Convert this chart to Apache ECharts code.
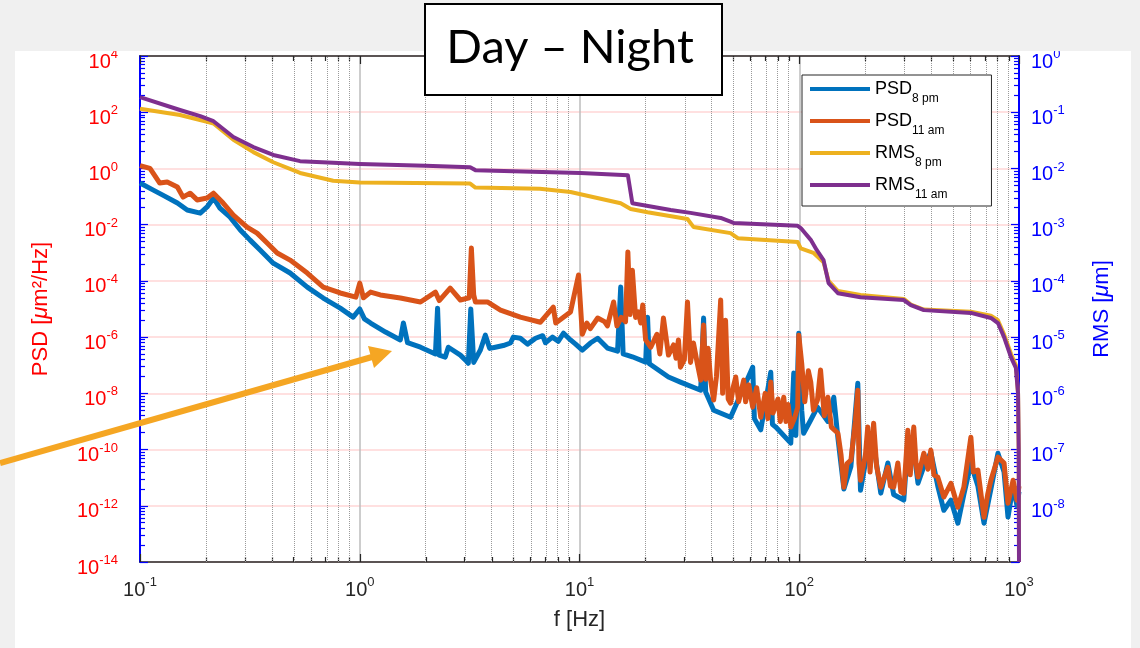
<!DOCTYPE html>
<html>
<head>
<meta charset="utf-8">
<script src="https://cdn.jsdelivr.net/npm/echarts@6/dist/echarts.min.js"></script>
<style>
html, body { margin: 0; padding: 0; background: #f0f0f0; }
#main { width: 1140px; height: 648px; }
</style>
</head>
<body>
<div id="main"></div>
<script>
// [frequency in Hz, level in decades (log10)]
var psd8pm = [
    [0.1, -0.52], [0.115, -0.77], [0.127, -0.95], [0.148, -1.23], [0.164, -1.48], [0.188, -1.59], [0.202, -1.37], [0.216, -1.05],
    [0.231, -1.41], [0.257, -1.73], [0.286, -2.19], [0.317, -2.55], [0.352, -2.9], [0.404, -3.37], [0.482, -3.72], [0.577, -4.22],
    [0.682, -4.61], [0.815, -4.97], [0.933, -5.29], [1.0, -5.0], [1.05, -5.35], [1.12, -5.5], [1.31, -5.82], [1.53, -6.1],
    [1.58, -5.5], [1.65, -6.2], [1.89, -6.36], [2.21, -6.6], [2.26, -4.97], [2.3, -6.64], [2.45, -6.71], [2.53, -6.36],
    [2.87, -6.64], [3.03, -6.82], [3.12, -6.93], [3.2, -5.0], [3.3, -6.9], [3.54, -6.46], [3.73, -5.93], [3.9, -6.4],
    [4.14, -6.36], [4.5, -6.3], [4.85, -6.21], [5.0, -6.0], [5.38, -6.04], [5.8, -6.25], [6.31, -6.04], [6.8, -5.95],
    [7.0, -6.2], [7.53, -6.0], [8.0, -6.15], [8.46, -5.86], [9.1, -6.1], [9.6, -6.25], [10.3, -6.46], [11.2, -6.21],
    [12.1, -6.04], [13.4, -6.39], [14.9, -6.5], [15.4, -4.22], [15.8, -6.6], [17.4, -6.7], [20.0, -6.89], [20.4, -5.29],
    [20.8, -6.95], [25.4, -7.42], [28.8, -7.6], [35.6, -7.89], [36.7, -5.32], [37.5, -7.95], [40.8, -8.6], [48.7, -8.85],
    [61.4, -7.07], [62.5, -8.9], [66.8, -9.3], [74.2, -7.25], [75.5, -9.1], [78.2, -9.2], [91.5, -9.77], [94.4, -7.28],
    [96.5, -9.5], [99.5, -5.86], [102.6, -8.6], [104.7, -9.42], [112.8, -8.95], [121, -8.49], [135, -9.0], [143.6, -8.14],
    [150, -9.6], [159.6, -11.4], [171.8, -10.6], [184.7, -7.64], [190, -11.45], [205, -10.0], [218, -9.8], [235, -11.55],
    [253, -10.48], [269, -11.6], [299, -11.8], [312, -9.8], [332, -10.0], [347, -11.2], [369, -10.6], [397, -10.1],
    [427, -11.3], [455, -12.16], [490, -11.8], [527, -12.62], [561, -11.6], [604, -10.5], [650, -11.3], [693, -12.62],
    [745, -11.4], [802, -10.13], [855, -10.8], [891, -12.4], [940, -11.3], [979, -12.0], [1000, -11.5]
];

var psd11am = [
    [0.1, 0.1], [0.111, 0.0], [0.123, -0.52], [0.133, -0.48], [0.148, -0.66], [0.157, -1.02], [0.169, -0.88], [0.182, -1.12],
    [0.202, -1.05], [0.216, -0.88], [0.239, -1.23], [0.266, -1.66], [0.307, -2.09], [0.341, -2.3], [0.379, -2.65], [0.421, -3.01],
    [0.482, -3.26], [0.577, -3.72], [0.682, -4.22], [0.815, -4.43], [0.96, -4.58], [1.0, -4.08], [1.04, -4.6], [1.12, -4.4],
    [1.24, -4.5], [1.53, -4.61], [1.89, -4.75], [2.21, -4.4], [2.3, -4.7], [2.58, -4.26], [2.87, -4.68], [3.15, -4.6],
    [3.22, -2.83], [3.3, -4.5], [3.36, -4.75], [3.81, -4.75], [4.37, -5.04], [5.38, -5.29], [6.64, -5.47], [7.6, -4.93],
    [7.8, -5.5], [9.1, -5.11], [9.9, -3.79], [10.3, -5.9], [10.8, -5.5], [11.2, -5.7], [12.1, -5.32], [13.0, -5.45],
    [13.4, -5.6], [14.3, -4.75], [14.8, -5.6], [15.5, -5.3], [16.2, -5.45], [16.6, -2.97], [17.0, -5.2], [17.4, -3.62],
    [18.0, -5.3], [18.5, -5.1], [19.0, -5.5], [19.4, -4.86], [20.0, -6.1], [21.1, -6.36], [22.5, -5.9], [23.2, -6.6],
    [24.1, -5.32], [25.4, -6.64], [26.8, -6.28], [27.5, -6.75], [28.2, -6.1], [28.8, -7.07], [30.0, -6.8], [31.0, -4.75],
    [32.0, -6.9], [33.0, -6.21], [34.3, -6.9], [35.6, -7.53], [36.7, -5.57], [37.5, -7.5], [38.5, -6.4], [39.5, -7.53],
    [40.8, -8.24], [42.0, -7.4], [43.9, -4.68], [44.8, -8.0], [46.2, -5.4], [47.5, -8.2], [48.7, -8.35], [50.0, -7.8],
    [51.4, -7.42], [53.0, -8.3], [55.9, -7.53], [57.0, -8.3], [59.0, -7.7], [61.4, -8.49], [64.0, -7.8], [66.8, -8.85],
    [70.0, -8.0], [72.0, -8.9], [74.2, -7.6], [76.0, -8.7], [80.0, -8.2], [82.0, -9.0], [85.0, -8.14], [87.0, -9.0],
    [89.0, -8.4], [91.5, -9.2], [95.0, -8.9], [98.4, -8.5], [99.5, -5.93], [102.6, -6.93], [106, -8.3], [110, -7.2],
    [112.8, -7.6], [116, -8.6], [121, -8.24], [125, -7.17], [130, -8.8], [135, -8.14], [140, -9.2], [150, -9.42],
    [155, -10.2], [159.6, -11.34], [165, -10.5], [171.8, -10.38], [180, -9.0], [184.7, -7.89], [187, -10.5], [190, -11.09],
    [200, -10.2], [205, -9.2], [210, -10.8], [218, -9.06], [225, -10.6], [235, -11.34], [253, -10.63], [260, -11.3],
    [269, -11.34], [281, -10.48], [290, -11.5], [299, -11.55], [312, -9.31], [320, -10.9], [332, -9.2], [340, -10.5],
    [347, -10.98], [369, -10.13], [385, -10.7], [397, -10.02], [410, -10.9], [427, -10.98], [455, -11.69], [490, -11.2],
    [527, -12.05], [561, -11.34], [604, -9.56], [620, -10.8], [650, -10.73], [693, -12.41], [720, -11.6], [745, -11.09],
    [802, -10.27], [855, -10.48], [891, -11.91], [940, -11.09], [979, -11.8], [1000, -11.3]
];

var rms8pm = [
    [0.1, -0.94], [0.152, -1.05], [0.202, -1.17], [0.216, -1.2], [0.266, -1.49], [0.328, -1.71], [0.404, -1.89], [0.535, -2.08],
    [0.757, -2.22], [1.0, -2.25], [3.18, -2.27], [3.36, -2.34], [6.6, -2.36], [9.1, -2.42], [15.4, -2.62], [17.1, -2.72],
    [20.4, -2.78], [31, -2.9], [33, -3.04], [48.7, -3.15], [52.5, -3.24], [98.4, -3.31], [101.6, -3.42], [116, -3.5],
    [129, -3.67], [136, -4.0], [150, -4.18], [190, -4.25], [299, -4.32], [322, -4.42], [369, -4.51], [604, -4.55],
    [745, -4.62], [802, -4.7], [855, -4.95], [920, -5.3], [968, -5.5], [990, -6.0], [997, -7.0], [1000, -9.0]
];

var rms11am = [
    [0.1, -0.73], [0.152, -0.96], [0.188, -1.07], [0.216, -1.16], [0.266, -1.44], [0.328, -1.62], [0.404, -1.76], [0.535, -1.87],
    [0.757, -1.9], [1.0, -1.92], [1.99, -1.95], [3.18, -1.98], [3.36, -2.03], [10.1, -2.08], [16.6, -2.12], [17.4, -2.62],
    [26, -2.74], [32, -2.79], [43.9, -2.88], [50.3, -2.97], [98.4, -3.02], [101.6, -3.06], [112.8, -3.27], [120, -3.45],
    [129, -3.63], [136, -4.04], [150, -4.22], [190, -4.29], [299, -4.34], [322, -4.43], [369, -4.52], [604, -4.57],
    [745, -4.66], [802, -4.75], [855, -5.0], [920, -5.36], [968, -5.55], [990, -6.0], [997, -7.0], [1000, -9.0]
];

var seriesNames = ['PSD_8 pm', 'PSD_11 am', 'RMS_8 pm', 'RMS_11 am'];
var seriesColors = ['#0072bd', '#d95319', '#edb120', '#7e2f8e'];

var FONT = 'Liberation Sans';

// minor tick positions (2..9 in each decade) in log10 units
var xMinor = [];
for (var n = -1; n < 3; n++) {
    for (var k = 2; k <= 9; k++) xMinor.push(n + Math.log10(k));
}
var rMinor = [];
for (var m = -9; m < 0; m++) {
    for (var j = 2; j <= 9; j++) rMinor.push(m + Math.log10(j));
}

function toLog(rows) {
    return rows.map(function (r) { return [Math.log10(r[0]), r[1]]; });
}
function powLabel(v) {
    return '{b|10}{s|' + v + '}';
}
function supRich(color) {
    return {
        b: { fontSize: 20, lineHeight: 28, color: color, fontFamily: FONT },
        s: { fontSize: 13, lineHeight: 12, verticalAlign: 'top', color: color, fontFamily: FONT }
    };
}
function tickAxis(pos, min, max, len, color, custom) {
    var ax = {
        type: 'value', min: min, max: max, position: pos,
        axisLine: { show: false, onZero: false },
        axisLabel: { show: false },
        splitLine: { show: false },
        axisTick: { show: true, inside: true, length: len, lineStyle: { color: color, width: 1.2 } }
    };
    if (custom) ax.axisTick.customValues = custom;
    else ax.interval = 1;
    return ax;
}
function lineSeries(i, data, yIdx, width) {
    return {
        name: seriesNames[i], type: 'line', xAxisIndex: 0, yAxisIndex: yIdx, z: 3 + i,
        data: toLog(data), showSymbol: false, symbol: 'none',
        itemStyle: { color: seriesColors[i] },
        lineStyle: { color: seriesColors[i], width: width, join: 'round' }
    };
}

var myChart = echarts.init(document.getElementById('main'));

var option = {
    backgroundColor: '#f0f0f0',
    animation: false,
    grid: { left: 140, right: 121, top: 56, bottom: 86, show: false },
    graphic: [
        { type: 'rect', z: -10, silent: true, shape: { x: 15, y: 51, width: 1116, height: 597 }, style: { fill: '#ffffff' } },
        { type: 'rect', z: 50, silent: true, shape: { x: 0, y: 0, width: 1140, height: 51 }, style: { fill: '#f0f0f0' } },
        { type: 'polyline', z: 100, silent: true, shape: { points: [[0, 463], [372, 357]] }, style: { stroke: '#f5a623', lineWidth: 6 } },
        { type: 'polygon', z: 100, silent: true, shape: { points: [[392, 351], [374, 368], [368, 346]] }, style: { fill: '#f5a623' } },
        { type: 'rect', z: 100, silent: true, shape: { x: 425, y: 4, width: 297, height: 91 }, style: { fill: '#ffffff', stroke: '#000000', lineWidth: 2 } },
        { type: 'text', z: 101, silent: true, x: 570, y: 48,
          style: { text: 'Day – Night', font: '47px Lato', fill: '#000000', align: 'center', verticalAlign: 'middle', textAlign: 'center', textVerticalAlign: 'middle' } }
    ],
    legend: {
        orient: 'vertical', left: 802, top: 75, z: 20,
        padding: [5, 44, 5, 8], itemGap: 7, itemWidth: 60, itemHeight: 4, icon: 'rect',
        backgroundColor: '#ffffff', borderColor: '#262626', borderWidth: 1,
        data: seriesNames,
        formatter: function (name) {
            var p = name.split('_');
            return '{m|' + p[0] + '}{s|' + p[1] + '}';
        },
        textStyle: {
            rich: {
                m: { fontSize: 18, lineHeight: 32, color: '#000', fontFamily: FONT },
                s: { fontSize: 12, lineHeight: 8, verticalAlign: 'bottom', color: '#000', fontFamily: FONT }
            }
        }
    },
    xAxis: [
        {
            type: 'value', min: -1, max: 3, interval: 1, position: 'bottom',
            name: 'f [Hz]', nameLocation: 'middle', nameGap: 47,
            nameTextStyle: { fontSize: 22, color: '#262626', fontFamily: FONT },
            axisLine: { show: true, onZero: false, lineStyle: { color: '#262626', width: 1.5 } },
            axisTick: { show: true, inside: true, length: 8, lineStyle: { color: '#262626', width: 1.2 } },
            axisLabel: { margin: 14, formatter: powLabel, rich: supRich('#262626') },
            splitLine: { show: true, lineStyle: { color: '#bdbdbd', width: 1.5 } }
        },
        tickAxis('bottom', -1, 3, 5, '#262626', xMinor),
        {
            type: 'value', min: -1, max: 3, interval: 1, position: 'top',
            axisLine: { show: true, onZero: false, lineStyle: { color: '#262626', width: 1.5 } },
            axisTick: { show: true, inside: true, length: 8, lineStyle: { color: '#262626', width: 1.2 } },
            axisLabel: { show: false },
            splitLine: { show: false }
        },
        tickAxis('top', -1, 3, 5, '#262626', xMinor)
    ],
    yAxis: [
        {
            type: 'value', min: -14, max: 4, interval: 2, position: 'left',
            name: '{t|PSD [}{i|μ}{t|m²/Hz]}', nameLocation: 'middle', nameRotate: 90, nameGap: 88,
            nameTextStyle: {
                rich: {
                    t: { fontSize: 22, color: '#ff0000', fontFamily: FONT },
                    i: { fontSize: 22, color: '#ff0000', fontFamily: FONT, fontStyle: 'italic' }
                }
            },
            axisLine: { show: true, onZero: false, lineStyle: { color: '#0000ff', width: 2 } },
            axisTick: { show: false },
            axisLabel: { margin: 22, padding: [12, 0, 0, 0], formatter: powLabel, rich: supRich('#ff0000') },
            splitLine: { show: true, lineStyle: { color: '#ffd6d6', width: 1.5 } }
        },
        {
            type: 'value', min: -9, max: 0, interval: 1, position: 'right',
            name: '{t|RMS [}{i|μ}{t|m]}', nameLocation: 'middle', nameRotate: 90, nameGap: 72,
            nameTextStyle: {
                rich: {
                    t: { fontSize: 22, color: '#0000ff', fontFamily: FONT },
                    i: { fontSize: 22, color: '#0000ff', fontFamily: FONT, fontStyle: 'italic' }
                }
            },
            axisLine: { show: true, onZero: false, lineStyle: { color: '#0000ff', width: 2 } },
            axisTick: { show: true, inside: true, length: 8, lineStyle: { color: '#0000ff', width: 1.2 } },
            axisLabel: {
                margin: 12, padding: [12, 0, 0, 0],
                formatter: function (v) { return v === -9 ? '' : powLabel(v); },
                rich: supRich('#0000ff')
            },
            splitLine: { show: false }
        },
        tickAxis('right', -9, 0, 5, '#0000ff', rMinor),
        tickAxis('left', -9, 0, 8, '#0000ff', null),
        tickAxis('left', -9, 0, 5, '#0000ff', rMinor)
    ],
    series: [
        {
            // dotted minor grid of the frequency axis
            type: 'line', data: [], xAxisIndex: 0, yAxisIndex: 0, silent: true, z: 1,
            markLine: {
                silent: true, z: 1, symbol: ['none', 'none'], label: { show: false },
                lineStyle: { type: 'dotted', color: '#9a9a9a', width: 1 },
                data: xMinor.map(function (v) { return { xAxis: v }; })
            }
        },
        lineSeries(0, psd8pm, 0, 5),
        lineSeries(1, psd11am, 0, 5),
        lineSeries(2, rms8pm, 1, 4),
        lineSeries(3, rms11am, 1, 4)
    ]
};

myChart.setOption(option);
</script>
</body>
</html>
